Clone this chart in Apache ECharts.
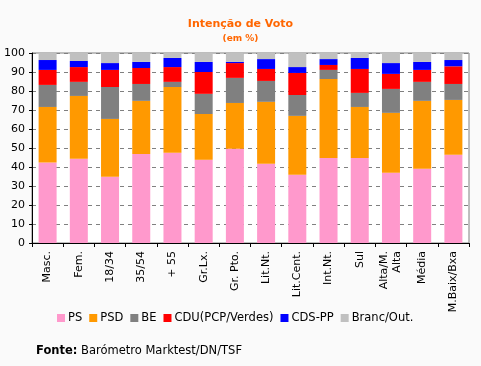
<!DOCTYPE html>
<html>
<head>
<meta charset="utf-8">
<script src="https://cdn.jsdelivr.net/npm/echarts@6/dist/echarts.min.js"></script>
<style>
html,body{margin:0;padding:0;background:#fafafa;}
#c{width:481px;height:366px;}
</style>
</head>
<body>
<div id="c"></div>
<script>
const categories = ['Masc.','Fem.','18/34','35/54','+ 55','Gr.Lx.','Gr. Pto.','Lit.Nt.','Lit.Cent.','Int.Nt.','Sul','Alta/M.\nAlta','Média','M.Baix/Bxa'];
const seriesNames = ['PS','PSD','BE','CDU(PCP/Verdes)','CDS-PP','Branc/Out.'];
const PS    = [42.4, 44.3, 34.9, 46.9, 47.5, 43.8, 49.6, 41.7, 35.9, 44.8, 44.8, 37.0, 39.1, 46.4];
const PSD   = [29.2, 33.1, 30.4, 27.9, 34.6, 24.1, 24.1, 32.6, 31.0, 41.5, 26.8, 31.5, 35.7, 28.9];
const BE    = [11.6,  7.4, 16.8,  8.9,  2.7, 10.6, 13.2, 11.0, 11.0,  4.8,  7.4, 12.6, 10.0,  8.4];
const CDU   = [ 7.9,  7.8,  9.0,  8.4,  7.8, 11.5,  7.8,  6.3, 11.6,  2.6, 12.6,  7.9,  6.3,  9.3];
const CDSPP = [ 5.2,  3.2,  3.6,  3.2,  4.8,  5.3,  0.6,  5.2,  3.1,  3.1,  5.8,  5.7,  4.2,  3.3];
const BRANC = [ 3.7,  4.2,  5.3,  4.7,  2.6,  4.7,  4.7,  3.2,  7.4,  3.2,  2.6,  5.3,  4.7,  3.7];
const yTicks = [0,10,20,30,40,50,60,70,80,90,100];
const colors = ['#ff99cc','#ff9900','#808080','#ff0000','#0000ff','#c0c0c0'];
const data = [PS, PSD, BE, CDU, CDSPP, BRANC];

const FONT = 'DejaVu Sans';
const chart = echarts.init(document.getElementById('c'), null, {renderer:'canvas'});
chart.setOption({
  backgroundColor:'#fafafa',
  animation:false,
  textStyle:{fontFamily:FONT},
  title:[
    {text:'Intenção de Voto', left:'center', top:14, textStyle:{fontFamily:FONT, fontSize:11, fontWeight:'bold', color:'#ff6600'}},
    {text:'(em %)', left:'center', top:29, textStyle:{fontFamily:FONT, fontSize:9, fontWeight:'bold', color:'#ff6600'}}
  ],
  grid:{left:32, right:12, top:53, bottom:123, show:true, backgroundColor:'#ffffff', borderColor:'#808080', borderWidth:1},
  legend:{
    data:seriesNames, bottom:37, left:52, itemWidth:8, itemHeight:8, itemGap:7,
    icon:'rect', textStyle:{fontFamily:FONT, fontSize:11.5, color:'#000', padding:[0,0,0,-2]}
  },
  xAxis:{
    type:'category', data:categories,
    axisLine:{lineStyle:{color:'#000'}},
    axisTick:{show:true, length:4, lineStyle:{color:'#000'}},
    axisLabel:{rotate:90, fontFamily:FONT, fontSize:11, color:'#000', margin:8, lineHeight:13}
  },
  yAxis:{
    type:'value', min:0, max:100, interval:10,
    axisLine:{show:true, lineStyle:{color:'#000'}},
    axisTick:{show:true, length:3, lineStyle:{color:'#000'}},
    axisLabel:{fontFamily:FONT, fontSize:11, color:'#000', margin:7,
      formatter:function(v){return yTicks.indexOf(v)>=0 ? String(v) : '';}},
    splitLine:{show:true, lineStyle:{color:'#808080', type:[4,4], width:1}}
  },
  series: seriesNames.map((n,i)=>({
    name:n, type:'bar', stack:'tot', data:data[i], barWidth:18,
    itemStyle:{color:colors[i]}
  })),
  graphic:[{
    type:'text', left:36, top:345,
    style:{
      text:'{b|Fonte:} Barómetro Marktest/DN/TSF',
      rich:{b:{fontWeight:'bold', fontFamily:FONT, fontSize:11.5, fill:'#000'}},
      fontFamily:FONT, fontSize:11.5, fill:'#000'
    }
  }]
});
</script>
</body>
</html>
